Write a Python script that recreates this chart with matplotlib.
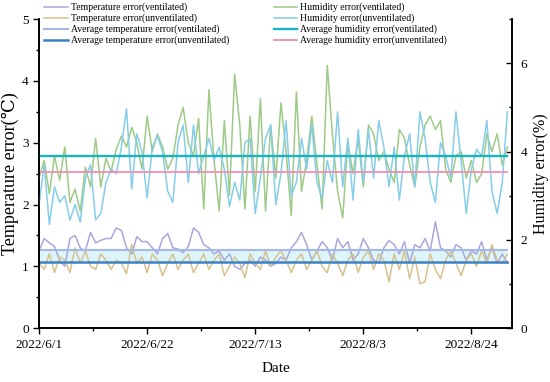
import numpy as np
import pandas as pd
import matplotlib
matplotlib.use("Agg")
import matplotlib.pyplot as plt
from matplotlib.ticker import MultipleLocator

plt.rcParams['font.family'] = ['Liberation Serif', 'DejaVu Serif']

# data
dates = pd.date_range("2022-06-01", "2022-08-31", freq="D")

temp_vent = [1.25, 1.45, 1.38, 1.32, 1.10, 1.00, 1.45, 1.50, 1.30, 1.25,
             1.55, 1.38, 1.42, 1.45, 1.45, 1.62, 1.58, 1.30, 1.20, 1.48,
             1.40, 1.40, 1.30, 1.20, 1.45, 1.53, 1.30, 1.28, 1.22, 1.32,
             1.62, 1.55, 1.35, 1.30, 1.20, 1.25, 1.10, 1.20, 1.00, 0.95,
             1.05, 1.10, 1.00, 1.15, 1.10, 1.00, 1.05, 1.15, 1.10, 1.30,
             1.40, 1.55, 1.35, 1.10, 1.25, 1.40, 1.30, 1.10, 1.45, 1.30,
             1.40, 1.10, 1.20, 1.45, 1.30, 1.10, 1.05, 1.30, 1.42, 1.35,
             1.20, 1.40, 1.05, 1.35, 1.30, 1.45, 1.25, 1.72, 1.30, 1.25,
             1.15, 1.35, 1.30, 1.10, 1.25, 1.20, 1.40, 1.10, 1.30, 1.05,
             1.20, 1.05]
temp_unvent = [1.05, 0.95, 1.20, 0.90, 1.15, 1.10, 0.90, 1.30, 1.05, 1.25,
               1.00, 0.95, 1.20, 1.10, 0.95, 1.10, 1.05, 0.88, 1.35, 1.05,
               1.15, 0.90, 1.20, 1.10, 0.85, 1.05, 1.20, 0.95, 1.10, 1.20,
               0.90, 1.05, 1.20, 0.95, 1.10, 1.20, 0.85, 1.00, 1.15, 1.05,
               0.82, 1.20, 1.05, 0.95, 1.25, 1.00, 1.15, 1.25, 1.10, 0.90,
               1.10, 1.20, 0.95, 1.10, 1.25, 1.00, 0.90, 1.20, 1.05, 0.85,
               1.10, 1.20, 0.90, 1.15, 1.25, 0.95, 1.20, 1.10, 0.75, 1.20,
               0.95, 1.25, 0.80, 1.15, 0.72, 0.75, 1.20, 0.95, 0.80, 1.10,
               1.25, 1.05, 0.85, 1.10, 1.20, 1.00, 1.25, 1.05, 1.35, 1.10,
               1.05, 1.20]
hum_vent = [3.40, 3.80, 3.05, 3.90, 3.35, 4.10, 2.85, 3.15, 2.65, 3.65,
            3.20, 4.30, 3.20, 3.85, 3.55, 4.05, 4.35, 4.10, 4.55, 4.20,
            3.60, 4.80, 4.00, 4.40, 4.10, 3.60, 3.85, 4.60, 5.00, 4.20,
            3.90, 4.75, 2.70, 5.40, 3.80, 2.65, 4.70, 3.00, 5.75, 4.60,
            2.70, 4.80, 3.10, 5.20, 2.65, 4.60, 3.40, 5.10, 4.00, 2.55,
            5.35, 3.10, 3.80, 4.80, 3.70, 2.70, 5.95, 4.40, 3.10, 2.50,
            4.20, 3.50, 4.30, 3.20, 4.60, 4.40, 3.80, 4.00, 3.60, 3.30,
            4.50, 4.30, 3.70, 3.20, 4.10, 4.60, 4.80, 4.50, 4.70, 3.60,
            3.30, 3.90, 4.00, 3.40, 3.80, 3.30, 3.50, 4.40, 4.00, 4.40,
            3.70, 4.10]
hum_unvent = [2.80, 3.70, 2.35, 3.20, 2.85, 3.00, 2.45, 2.80, 2.40, 3.40,
              3.70, 2.45, 2.60, 3.30, 3.60, 3.50, 4.10, 4.97, 3.15, 4.40,
              4.00, 2.95, 4.10, 4.35, 4.00, 3.10, 2.85, 4.20, 4.60, 3.30,
              4.60, 3.50, 3.90, 4.30, 3.80, 4.10, 3.60, 2.75, 3.30, 2.90,
              4.20, 4.30, 2.60, 3.40, 4.30, 4.60, 2.80, 3.50, 4.70, 3.00,
              3.30, 4.30, 3.60, 4.60, 3.30, 2.95, 3.80, 3.30, 4.90, 3.20,
              4.30, 2.90, 4.50, 3.30, 4.50, 3.40, 4.70, 4.10, 3.20, 4.10,
              2.90, 3.90, 4.40, 3.20, 4.90, 4.30, 3.30, 2.85, 4.20, 3.90,
              3.40, 4.90, 3.80, 2.60, 3.60, 4.05, 3.90, 4.70, 3.10, 2.60,
              3.30, 4.90]

avg_temp_vent = 1.26
avg_temp_unvent = 1.07
avg_hum_vent = 3.89
avg_hum_unvent = 3.54

tick_dates = ["2022-06-01", "2022-06-22", "2022-07-13", "2022-08-03", "2022-08-24"]

x = np.arange(len(dates))
xmax = 91.9

fig = plt.figure(figsize=(5.5, 3.82), dpi=100)
ax = fig.add_axes([0.071, 0.141, 0.86, 0.809])
ax2 = ax.twinx()

# 온도 오차
l1, = ax.plot(x, temp_vent, color='#A9A7DC', lw=1.1)
l2, = ax.plot(x, temp_unvent, color='#D6C28E', lw=1.1)
ax.fill_between([x[0], x[-1]], avg_temp_unvent, avg_temp_vent, color='#DDF5F8', lw=0, zorder=0)
l3 = ax.axhline(avg_temp_vent, xmin=0, xmax=x[-1] / xmax, color='#A3B9EA', lw=1.5)
l4 = ax.axhline(avg_temp_unvent, xmin=0, xmax=x[-1] / xmax, color='#3D82C6', lw=1.8)

# 습도 오차
l5, = ax2.plot(x, hum_vent, color='#9DCB87', lw=1.1)
l6, = ax2.plot(x, hum_unvent, color='#86CDEA', lw=1.1)
l7 = ax2.axhline(avg_hum_vent, xmin=0, xmax=x[-1] / xmax, color='#17B3BE', lw=1.7)
l8 = ax2.axhline(avg_hum_unvent, xmin=0, xmax=x[-1] / xmax, color='#F28DB2', lw=1.3)

ax.set_xlim(0, xmax)
ax.set_ylim(0, 5)
ax2.set_ylim(0, 7)

tick_pos = [(pd.Timestamp(d) - dates[0]).days for d in tick_dates]
tick_lab = [f"{pd.Timestamp(d).year}/{pd.Timestamp(d).month}/{pd.Timestamp(d).day}" for d in tick_dates]
ax.set_xticks(tick_pos)
ax.set_xticklabels(tick_lab)
ax.xaxis.set_minor_locator(MultipleLocator(10.5))
ax.yaxis.set_major_locator(MultipleLocator(1))
ax.yaxis.set_minor_locator(MultipleLocator(0.5))
ax2.yaxis.set_major_locator(MultipleLocator(2))
ax2.yaxis.set_minor_locator(MultipleLocator(1))

for a in (ax, ax2):
    a.spines['top'].set_visible(False)
    a.spines['left'].set_linewidth(1.2)
    a.spines['right'].set_linewidth(1.2)
    a.spines['bottom'].set_linewidth(1.2)
ax.tick_params(axis='both', which='major', direction='out', length=4, width=1, labelsize=9.5)
ax.tick_params(axis='both', which='minor', direction='out', length=2.5, width=1)
ax2.tick_params(axis='y', which='major', direction='in', length=4, width=1, labelsize=9.5, pad=6)
ax2.tick_params(axis='y', which='minor', direction='in', length=2.5, width=1)

ax.set_xlabel('Date', fontsize=11, labelpad=8)
ax.set_ylabel('Temperature error(℃)', fontsize=13, labelpad=2)
ax2.set_ylabel('Humidity error(%)', fontsize=11.5, labelpad=4)

handles = [l1, l2, l3, l4, l5, l6, l7, l8]
labels = ['Temperature error(ventilated)', 'Temperature error(unventilated)',
          'Average temperature error(ventilated)', 'Average temperature error(unventilated)',
          'Humidity error(ventilated)', 'Humidity error(unventilated)',
          'Average humidity error(ventilated)', 'Average humidity error(unventilated)']
leg = ax.legend(handles, labels, ncol=2, loc='upper left', bbox_to_anchor=(0.003, 1.066),
                frameon=False, fontsize=7, handlelength=2.4, handletextpad=0.3,
                labelspacing=0.15, columnspacing=4.6, borderaxespad=0)
leg.set_zorder(5)

fig.savefig('out.png', dpi=100)
